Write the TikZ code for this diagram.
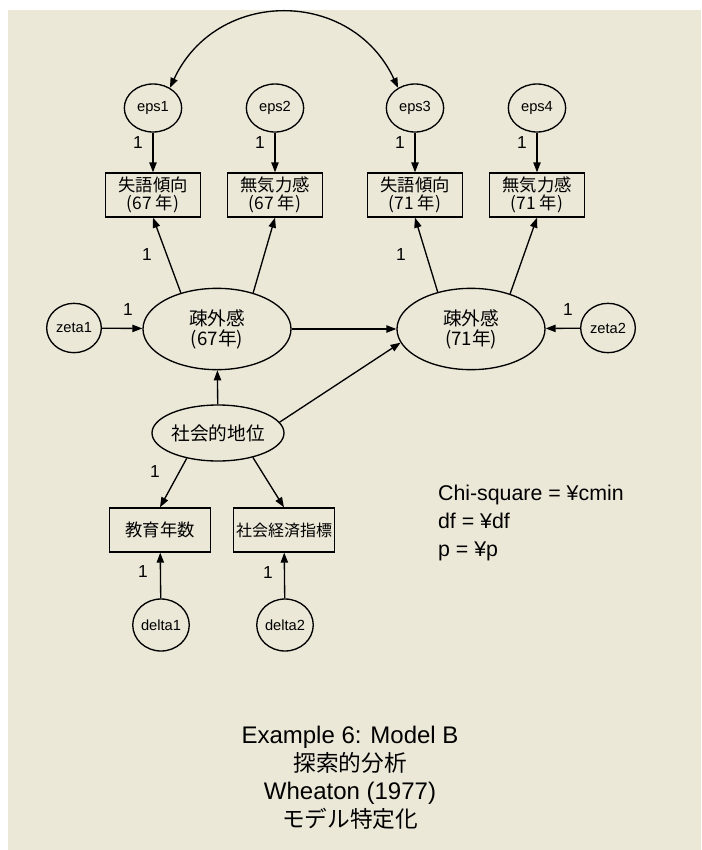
\documentclass[tikz,border=0pt]{standalone}
\usepackage{fontspec}
\setmainfont{Liberation Sans}
\newfontfamily\cjk{Noto Sans CJK JP}
\usetikzlibrary{arrows.meta,shapes.geometric}
\definecolor{amosbg}{RGB}{235,232,216}

\begin{document}
\begin{tikzpicture}[x=0.75pt,y=-0.75pt,line width=1pt,
  >={Triangle[length=7.5pt,width=5.5pt]},
  obs/.style={draw,minimum width=71pt,minimum height=33pt,inner sep=0pt,
    align=center,font=\cjk\fontsize{13}{13.5}\selectfont},
  err/.style={draw,ellipse,minimum width=43pt,minimum height=36pt,inner sep=0pt,
    font=\fontsize{11}{12}\selectfont},
  lat/.style={draw,ellipse,minimum width=111pt,minimum height=61pt,inner sep=0pt,
    align=center,font=\cjk\fontsize{14}{15}\selectfont},
  one/.style={font=\fontsize{13}{14}\selectfont}]
  \useasboundingbox (0,0) rectangle (701,850);
  \fill[white] (0,0) rectangle (701,850);
  \fill[amosbg] (8,10) rectangle (701,850);

  % indicators and their errors
  \foreach \x/\n/\t/\y in
  {
    153/1/失語傾向/67,
    275/2/無気力感/67,
    415/3/失語傾向/71,
    537/4/無気力感/71%
    }
  {
    \node[err] (eps\n) at (\x,108) {eps\n};
    \node[obs] (y\n) at (\x,195) {\t\\(\y\ 年)};
    \draw[->] (eps\n) -- (y\n);
    \node[one] at (\x-15,143) {1};
  }

  % latent variables
  \node[lat] (la67) at (217,329) {疎外感\\(67年)};
  \node[lat] (la71) at (471,329) {疎外感\\(71年)};
  \node[err,minimum width=41pt,minimum height=37pt] (zeta1) at (74,328) {zeta1};
  \node[err,minimum width=41pt,minimum height=37pt] (zeta2) at (608,328) {zeta2};
  \node[lat,minimum width=83pt,minimum height=42pt] (ses) at (218,433) {社会的地位};

  \node[obs,minimum width=76pt,font=\cjk\fontsize{13}{14}\selectfont] (edu) at (160,530) {教育年数};
  \node[obs,minimum width=76pt,font=\cjk\fontsize{12}{14}\selectfont] (sei) at (284,530) {社会経済指標};
  \node[err,minimum width=42pt,minimum height=39pt] (delta1) at (161,625) {delta1};
  \node[err,minimum width=42pt,minimum height=39pt] (delta2) at (285,625) {delta2};

  \draw[<->] (eps1.50) to[out=65,in=115,looseness=1.24] (eps3.130);

  \draw[->] (la67.135) -- (y1.south);
  \draw[->] (la67.45) -- (y2.south);
  \draw[->] (la71.132) -- (y3.south);
  \draw[->] (la71.42) -- (y4.south);
  \draw[->] (zeta1) -- (la67);
  \draw[->] (zeta2) -- (la71);
  \draw[->] (la67) -- (la71);
  \draw[->] (ses) -- (la67);
  \draw[->] (ses.10) -- (la71.191);
  \draw[->] (ses.219) -- (edu.north);
  \draw[->] (ses.325) -- (sei.north);
  \draw[->] (delta1) -- (edu);
  \draw[->] (delta2) -- (sei);

  \node[one] at (147,255) {1};
  \node[one] at (401,255) {1};
  \node[one] at (128,310) {1};
  \node[one] at (568,310) {1};
  \node[one] at (155,472) {1};
  \node[one] at (143,572) {1};
  \node[one] at (268,573) {1};

  % fit statistics
  \node[anchor=base west,font=\fontsize{16}{18}\selectfont] (chi) at (433,500) {Chi-square = ¥cmin};
  \node[anchor=base west,font=\fontsize{16}{18}\selectfont] (df) at (433,528) {df = ¥df};
  \node[anchor=base west,font=\fontsize{16}{18}\selectfont] (pval) at (433,556) {p = ¥p};

  % title
  \node[anchor=base,font=\fontsize{18}{20}\selectfont] (t1) at (350,743) {Example 6: Model B};
  \node[anchor=base,font=\cjk\fontsize{17}{20}\selectfont] (t2) at (350,771) {探索的分析};
  \node[anchor=base,font=\fontsize{18}{20}\selectfont] (t3) at (350,799) {Wheaton (1977)};
  \node[anchor=base,font=\cjk\fontsize{17}{20}\selectfont] (t4) at (350,827) {モデル特定化};
\end{tikzpicture}
\end{document}
